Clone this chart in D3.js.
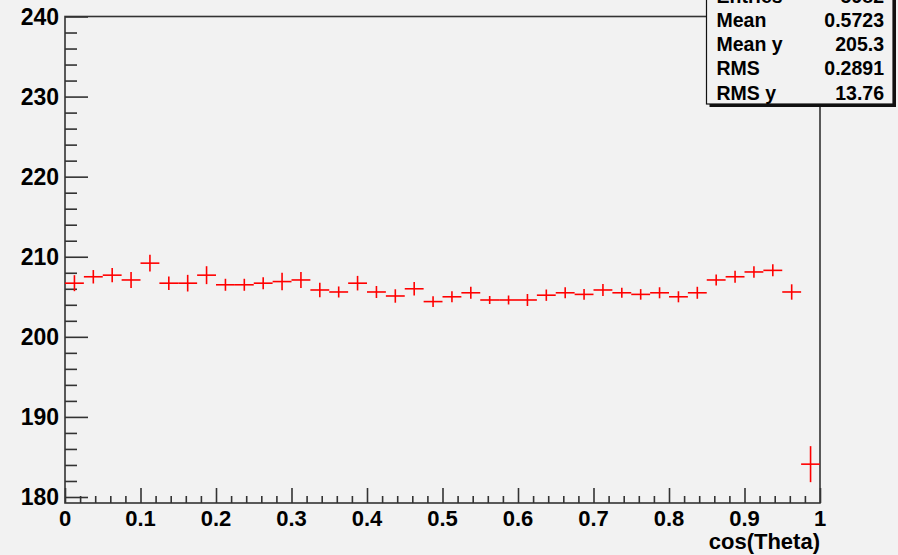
<!DOCTYPE html>
<html>
<head>
<meta charset="utf-8">
<script src="https://cdn.jsdelivr.net/npm/d3@7"></script>
<style>
  body { margin: 0; background: #f2f2f2; }
  svg { display: block; font-family: "Liberation Sans", Arial, sans-serif; font-weight: bold; }
</style>
</head>
<body>
<div id="chart"></div>
<script>
// profile: mean y per cos(Theta) bin, 40 bins on [0,1]
let nBins = 40;
let xMin = 0, xMax = 1;
let meanY = [206.7, 207.5, 207.7, 207.1, 209.2, 206.7, 206.7, 207.7, 206.5, 206.5,
             206.7, 206.9, 207.1, 205.85, 205.6, 206.7, 205.6, 205.1, 206.0, 204.4,
             205.0, 205.5, 204.6, 204.6, 204.6, 205.2, 205.5, 205.3, 205.85, 205.5,
             205.3, 205.5, 205.0, 205.5, 207.1, 207.5, 208.1, 208.3, 205.6, 184.1];
let errY = [1.0, 0.84, 0.88, 1.0, 1.04, 0.84, 1.04, 1.12, 0.75, 0.75,
            0.75, 1.09, 1.0, 0.91, 0.69, 0.91, 0.75, 0.84, 0.84, 0.66,
            0.69, 0.75, 0.5, 0.56, 0.75, 0.71, 0.69, 0.66, 0.75, 0.62,
            0.66, 0.69, 0.69, 0.75, 0.69, 0.75, 0.71, 0.75, 0.96, 2.25];
let xTicks = [0, 0.1, 0.2, 0.3, 0.4, 0.5, 0.6, 0.7, 0.8, 0.9, 1];
let yTicks = [180, 190, 200, 210, 220, 230, 240];
let statLabels = ["Entries", "Mean", "Mean y", "RMS", "RMS y"];
let statValues = ["5982", "0.5723", "205.3", "0.2891", "13.76"];

let width = 898;
let height = 555;
let frame = {left: 65, right: 820, top: 16.5, bottom: 503};

let binW = (xMax - xMin) / nBins;
let bins = meanY.map(function(m, i) {
  return {lo: xMin + i * binW, hi: xMin + (i + 1) * binW, mid: xMin + (i + 0.5) * binW, y: m, e: errY[i]};
});

let x = d3.scaleLinear().domain([xMin, xMax]).range([frame.left, frame.right]);
let y = d3.scaleLinear().domain([179.25, 240]).range([frame.bottom, frame.top]);

let svg = d3.select("#chart").append("svg")
  .attr("width", width)
  .attr("height", height);

svg.append("rect")
  .attr("width", width).attr("height", height)
  .attr("fill", "#f2f2f2");

// frame
svg.append("rect")
  .attr("x", frame.left).attr("y", frame.top)
  .attr("width", frame.right - frame.left)
  .attr("height", frame.bottom - frame.top)
  .attr("fill", "none")
  .attr("stroke", "#333")
  .attr("stroke-width", 1.6);

// y axis: ticks point inward
let yAxis = d3.axisRight(y)
  .tickValues(d3.range(180, 240.01, 2))
  .tickSize(12)
  .tickFormat("");
let gy = svg.append("g")
  .attr("transform", "translate(" + frame.left + ",0)")
  .call(yAxis);
gy.select(".domain").remove();
gy.selectAll(".tick line")
  .attr("x2", function(d) { return d % 10 === 0 ? 23 : 12; })
  .attr("stroke", "#333").attr("stroke-width", 1.6);

gy.selectAll(".ylab")
  .data(yTicks)
  .enter().append("text")
  .attr("class", "ylab")
  .attr("x", -6)
  .attr("y", function(d) { return y(d); })
  .attr("dy", "0.36em")
  .attr("text-anchor", "end")
  .attr("font-size", 23)
  .attr("fill", "#000")
  .text(function(d) { return d; });

// x axis
let xAxis = d3.axisTop(x)
  .tickValues(d3.range(0, 1.0001, 0.02))
  .tickSize(7)
  .tickFormat("");
let gx = svg.append("g")
  .attr("transform", "translate(0," + frame.bottom + ")")
  .call(xAxis);
gx.select(".domain").remove();
gx.selectAll(".tick line")
  .attr("y2", function(d) { return Math.abs(d * 10 - Math.round(d * 10)) < 1e-6 ? -15 : -7; })
  .attr("stroke", "#333").attr("stroke-width", 1.6);

gx.selectAll(".xlab")
  .data(xTicks)
  .enter().append("text")
  .attr("class", "xlab")
  .attr("x", function(d) { return x(d); })
  .attr("y", 23)
  .attr("text-anchor", "middle")
  .attr("font-size", 22)
  .attr("fill", "#000")
  .text(function(d) { return d; });

svg.append("text")
  .attr("x", frame.right)
  .attr("y", 549)
  .attr("text-anchor", "end")
  .attr("font-size", 22)
  .attr("fill", "#000")
  .text("cos(Theta)");

// error bars
let marks = svg.append("g").attr("stroke", "#ff0000").attr("stroke-width", 1.6);
marks.selectAll(".hbar")
  .data(bins)
  .enter().append("line")
  .attr("class", "hbar")
  .attr("x1", function(d) { return x(d.lo); })
  .attr("x2", function(d) { return x(d.hi); })
  .attr("y1", function(d) { return y(d.y); })
  .attr("y2", function(d) { return y(d.y); });
marks.selectAll(".vbar")
  .data(bins)
  .enter().append("line")
  .attr("class", "vbar")
  .attr("x1", function(d) { return x(d.mid); })
  .attr("x2", function(d) { return x(d.mid); })
  .attr("y1", function(d) { return y(d.y - d.e); })
  .attr("y2", function(d) { return y(d.y + d.e); });

// stats box (top cut off by canvas edge, as in the reference)
let box = {x: 706.5, y: -22, w: 186.5, h: 126};
svg.append("rect")
  .attr("x", box.x + 3).attr("y", box.y + 3)
  .attr("width", box.w).attr("height", box.h)
  .attr("fill", "#111");
svg.append("rect")
  .attr("x", box.x).attr("y", box.y)
  .attr("width", box.w).attr("height", box.h)
  .attr("fill", "#f2f2f2")
  .attr("stroke", "#111")
  .attr("stroke-width", 1.2);

let rows = svg.append("g").selectAll("g")
  .data(statLabels)
  .enter().append("g")
  .attr("transform", function(d, i) { return "translate(0," + (2.5 + i * 24.3) + ")"; });
rows.append("text")
  .attr("x", 716.5)
  .attr("font-size", 19.5)
  .attr("fill", "#000")
  .text(function(d) { return d; });
rows.append("text")
  .attr("x", 884)
  .attr("text-anchor", "end")
  .attr("font-size", 19.5)
  .attr("fill", "#000")
  .text(function(d, i) { return statValues[i]; });
</script>
</body>
</html>
